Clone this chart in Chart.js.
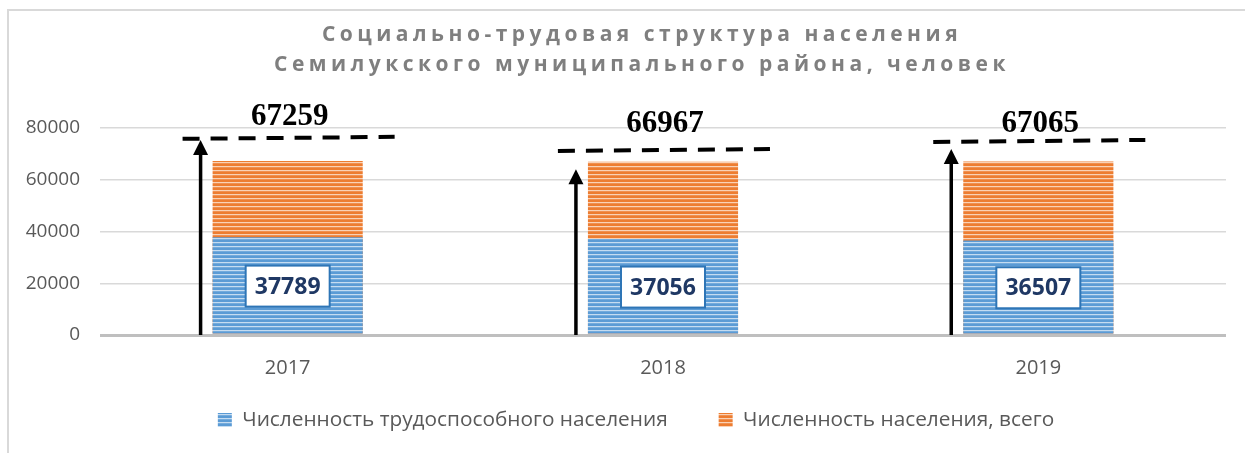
<!DOCTYPE html>
<html>
<head>
<meta charset="utf-8">
<script src="https://cdn.jsdelivr.net/npm/chart.js@4.4.1/dist/chart.umd.min.js"></script>
<style>
  html, body { margin: 0; padding: 0; background: #fff; }
  #frame { position: absolute; left: 7px; top: 9px; width: 1300px; height: 500px; border: 2px solid #d9d9d9; }
  #c_struct { position: absolute; left: 0; top: 0; }
</style>
</head>
<body>
<div id="frame"></div>
<canvas id="c_struct" width="1245" height="453"></canvas>
<script>
// chart data
const years = ['2017', '2018', '2019']
const workingAge = [37789, 37056, 36507]
const totalPop = [67259, 66967, 67065]
const seriesNames = ['Численность трудоспособного населения', 'Численность населения, всего']
const yTicks = [0, 20000, 40000, 60000, 80000]
const titleLines = ['Социально-трудовая структура населения', 'Семилукского муниципального района, человек']

// hand drawn marks on top of the chart (value units)
const dashLevel = [75800, 71100, 74600]
const arrowTop = [75400, 64100, 71900]
const totalLabelLevel = [84250, 81550, 81700]

var ctx = document.getElementById('c_struct').getContext('2d')

// striped fill like the office "horizontal lines" pattern
function stripes(base, light, mid) {
    const c = document.createElement('canvas')
    c.width = 4
    c.height = 4
    const g = c.getContext('2d')
    g.fillStyle = base
    g.fillRect(0, 0, 4, 4)
    g.fillStyle = light
    g.fillRect(0, 2, 4, 1)
    g.fillStyle = mid
    g.fillRect(0, 3, 4, 1)
    return ctx.createPattern(c, 'repeat')
}
const bluePat = stripes('#5b9bd5', '#c5dcf1', '#74abdc')
const orangePat = stripes('#ed7d31', '#f9d2b6', '#f09050')

const decor = {
    id: 'decor',
    afterLayout(chart) {
        // move the legend row up and a bit right, like the original
        const lg = chart.legend
        lg.top -= 21.5
        lg.bottom -= 21.5
        lg.left += 23
        lg.right += 23
    },
    afterDatasetsDraw(chart) {
        const { ctx, scales: { x, y } } = chart
        const step = x.getPixelForValue(1) - x.getPixelForValue(0)
        ctx.save()
        years.forEach((yr, i) => {
            const cx = x.getPixelForValue(i)
            // dashed line
            const yl = y.getPixelForValue(dashLevel[i])
            ctx.strokeStyle = '#000'
            ctx.lineWidth = 4
            ctx.setLineDash([17, 11])
            ctx.beginPath()
            ctx.moveTo(cx - 0.28 * step, yl)
            ctx.lineTo(cx + 0.285 * step, yl - 2)
            ctx.stroke()
            ctx.setLineDash([])
            // arrow
            const ax = cx - 0.232 * step
            const top = y.getPixelForValue(arrowTop[i])
            const bottom = y.getPixelForValue(0)
            ctx.lineWidth = 3.5
            ctx.beginPath()
            ctx.moveTo(ax, bottom)
            ctx.lineTo(ax, top + 12)
            ctx.stroke()
            ctx.fillStyle = '#000'
            ctx.beginPath()
            ctx.moveTo(ax, top)
            ctx.lineTo(ax - 7.5, top + 15)
            ctx.lineTo(ax + 7.5, top + 15)
            ctx.closePath()
            ctx.fill()
            // total label
            ctx.font = 'bold 31px "Liberation Serif"'
            ctx.textAlign = 'center'
            ctx.textBaseline = 'middle'
            ctx.fillText(String(totalPop[i]), cx + 2, y.getPixelForValue(totalLabelLevel[i]))
        })
        // value boxes inside the blue bars
        const meta = chart.getDatasetMeta(0)
        meta.data.forEach((bar, i) => {
            const cy = y.getPixelForValue(workingAge[i] / 2)
            const w = 84, h = 41
            ctx.fillStyle = '#fff'
            ctx.fillRect(bar.x - w / 2, cy - h / 2, w, h)
            ctx.strokeStyle = '#2e75b6'
            ctx.lineWidth = 2
            ctx.strokeRect(bar.x - w / 2, cy - h / 2, w, h)
            ctx.fillStyle = '#1f3864'
            ctx.font = 'bold 23px "Open Sans"'
            ctx.textAlign = 'center'
            ctx.textBaseline = 'middle'
            ctx.fillText(String(workingAge[i]), bar.x, cy + 1)
        })
        ctx.restore()
    },
    afterDraw(chart) {
        const { ctx } = chart
        ctx.save()
        ctx.fillStyle = '#7f7f7f'
        ctx.font = 'bold 21px "Open Sans"'
        ctx.letterSpacing = '4.5px'
        ctx.textAlign = 'center'
        ctx.textBaseline = 'alphabetic'
        ctx.fillText(titleLines[0], 642, 41)
        ctx.fillText(titleLines[1], 642, 71)
        ctx.restore()
    }
}

var data = {
    labels: years,
    datasets: [{
        label: seriesNames[0],
        data: workingAge,
        backgroundColor: bluePat,
        grouped: false,
        categoryPercentage: 1,
        barPercentage: 0.4
    }, {
        label: seriesNames[1],
        data: totalPop,
        backgroundColor: orangePat,
        grouped: false,
        categoryPercentage: 1,
        barPercentage: 0.4
    }]
}

var options = {
    responsive: false,
    animation: false,
    layout: {
        padding: { top: 128, left: 0, right: 19, bottom: 0 }
    },
    plugins: {
        title: { display: false },
        tooltip: { enabled: false },
        legend: {
            display: true,
            position: 'bottom',
            maxHeight: 73,
            labels: {
                boxWidth: 14,
                boxHeight: 14,
                padding: 51,
                color: '#595959',
                font: { family: 'Open Sans', size: 20.8 }
            }
        }
    },
    scales: {
        x: {
            grid: { display: false, drawTicks: false },
            border: { display: false },
            ticks: {
                padding: 21,
                color: '#595959',
                font: { family: 'Open Sans', size: 20 }
            },
            afterFit(scale) { scale.height = 45 }
        },
        y: {
            min: 0,
            max: 80000,
            afterBuildTicks(scale) { scale.ticks = yTicks.map(v => ({ value: v })) },
            grid: {
                drawTicks: false,
                color: ctx => ctx.tick && ctx.tick.value === 0 ? '#bfbfbf' : '#d9d9d9',
                lineWidth: ctx => ctx.tick && ctx.tick.value === 0 ? 3 : 1.5
            },
            border: { display: false },
            ticks: {
                padding: 20,
                color: '#595959',
                font: { family: 'Open Sans', size: 19 },
                callback: v => String(v)
            },
            afterFit(scale) { scale.width = 100 }
        }
    }
}

new Chart(ctx, {
    type: 'bar',
    data: data,
    options: options,
    plugins: [decor]
})
</script>
</body>
</html>
